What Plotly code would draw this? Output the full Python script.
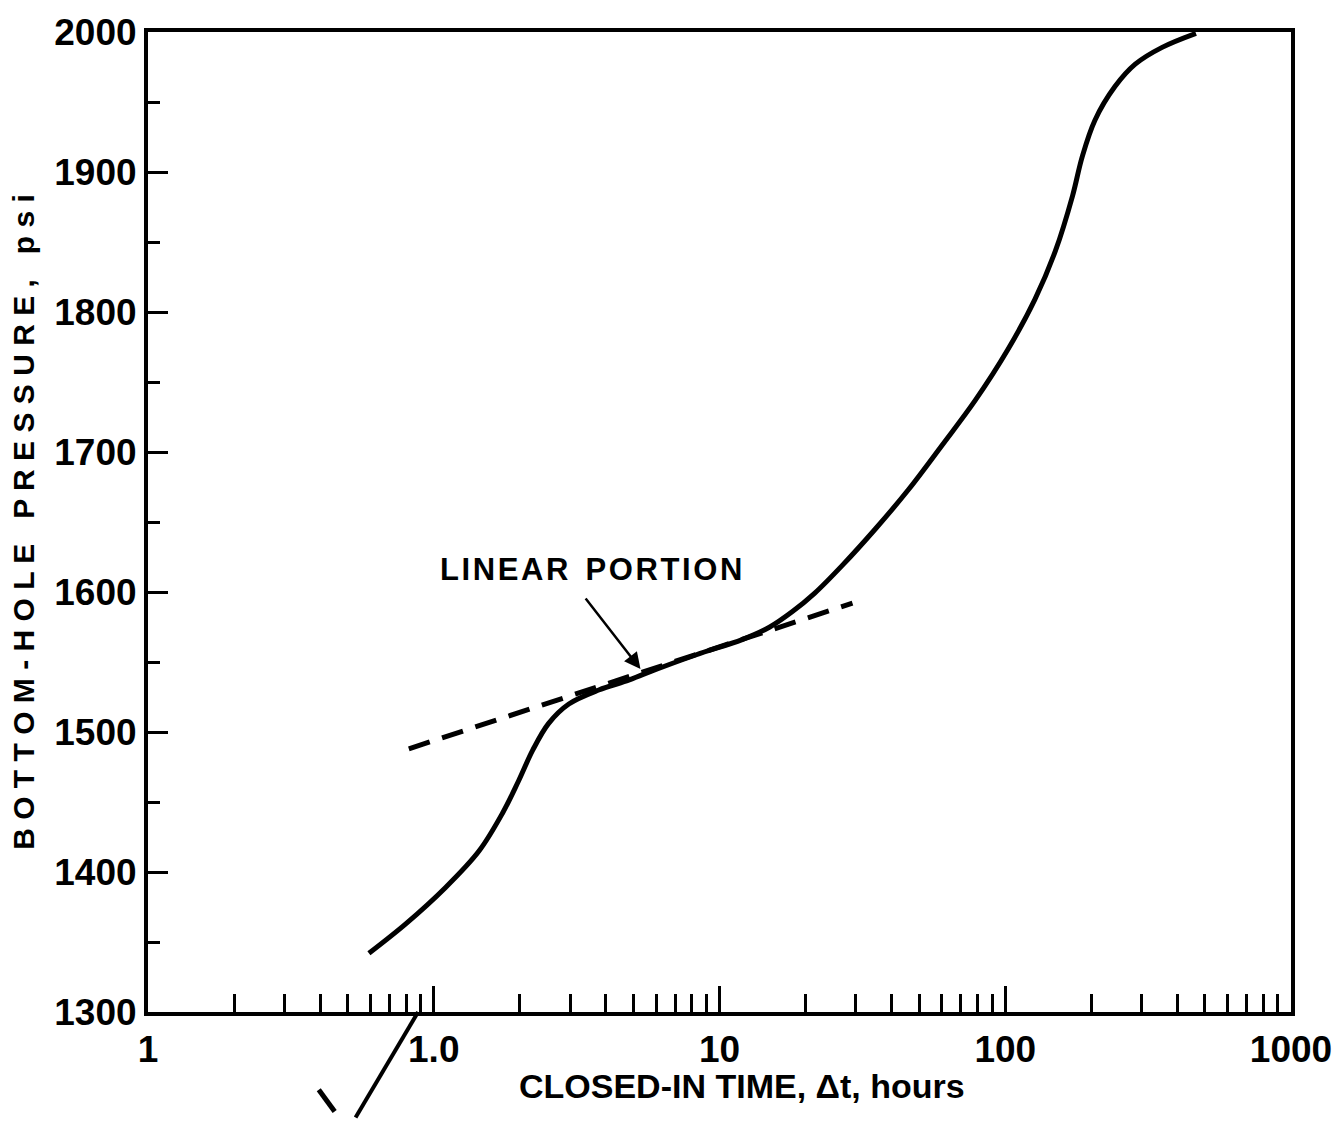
import math
import plotly.graph_objects as go

# Solid build-up curve (closed-in time, hours ; bottom-hole pressure, psi)
curve_t = [0.593, 0.798, 1.10, 1.44, 1.74, 1.98, 2.22, 2.52, 2.97, 3.78, 4.81, 5.38,
           8.25, 12.0, 15.0, 18.0, 21.5, 26.9, 35.1, 45.8, 60.2, 78.6, 102, 127, 150, 172,
           186, 206, 242, 285, 354, 465]
curve_p = [1342, 1363, 1389, 1415, 1442, 1465, 1487, 1506, 1520, 1530, 1537, 1541,
           1555, 1566, 1575, 1586, 1599, 1619, 1645, 1673, 1705, 1737, 1773, 1809, 1844, 1883,
           1911, 1937, 1961, 1977, 1989, 1999]

# Dashed straight-line (semilog linear portion)
line_t = [0.818, 29.2]
line_p = [1488, 1592]

# Axis ticks
x_tickvals = [0.1, 1, 10, 100, 1000]
x_ticktext = ["1", "1.0", "10", "100", "1000"]
y_tickvals = [1300, 1400, 1500, 1600, 1700, 1800, 1900, 2000]
y_ticktext = [str(v) for v in y_tickvals]

# Annotation (time, pressure)
arrow_tip = (5.29, 1545)
label_pos = (3.54, 1616)
label_text = "LINEAR PORTION"

FONT = "Liberation Sans, Arial, sans-serif"

fig = go.Figure()
fig.add_trace(go.Scatter(x=line_t, y=line_p, mode="lines",
                         line=dict(color="black", width=5, dash="22px,13px"),
                         showlegend=False, hoverinfo="skip"))
fig.add_trace(go.Scatter(x=curve_t, y=curve_p, mode="lines",
                         line=dict(color="black", width=5, shape="spline", smoothing=1.0),
                         showlegend=False, hoverinfo="skip"))

fig.add_annotation(x=math.log10(arrow_tip[0]), y=arrow_tip[1], xref="x", yref="y",
                   ax=-56, ay=-72,
                   text="", showarrow=True, arrowhead=2, arrowsize=1.3,
                   arrowwidth=2.5, arrowcolor="black")
fig.add_annotation(x=math.log10(label_pos[0]), y=label_pos[1], xref="x", yref="y",
                   text="\u200a".join(label_text).replace("\u200a \u200a", "  "),
                   showarrow=False, font=dict(family=FONT, size=31, color="black", weight="bold"))

# x-axis title
fig.add_annotation(x=0.52, y=-0.075, xref="paper", yref="paper", yanchor="middle",
                   text="CLOSED-IN TIME, Δt, hours", showarrow=False,
                   font=dict(family=FONT, size=34, color="black", weight="bold"))

# scan marks below the axis
fig.add_shape(type="line", xref="paper", yref="paper", x0=0.2363, y0=0.0, x1=0.1816, y1=-0.1077,
              line=dict(color="black", width=4))
fig.add_shape(type="line", xref="paper", yref="paper", x0=0.1494, y0=-0.0793, x1=0.1633, y1=-0.1016,
              line=dict(color="black", width=5))

fig.update_xaxes(type="log", range=[-1, 3],
                 tickvals=x_tickvals, ticktext=x_ticktext,
                 ticks="inside", ticklen=26, tickwidth=3, tickcolor="black",
                 minor=dict(ticks="inside", ticklen=18, tickwidth=3, tickcolor="black", dtick="D1", showgrid=False),
                 showline=True, linewidth=4, linecolor="black", mirror=True,
                 showgrid=False, zeroline=False,
                 tickfont=dict(family=FONT, size=37, color="black", weight="bold"),
                 ticklabelstandoff=2)
fig.update_yaxes(range=[1300, 2000],
                 tickvals=y_tickvals, ticktext=y_ticktext,
                 ticks="inside", ticklen=20, tickwidth=3, tickcolor="black",
                 minor=dict(ticks="inside", ticklen=12, tickwidth=3, tickcolor="black", dtick=50, showgrid=False),
                 showline=True, linewidth=4, linecolor="black", mirror=True,
                 showgrid=False, zeroline=False,
                 tickfont=dict(family=FONT, size=37, color="black", weight="bold"),
                 title=dict(text="B O T T O M - H O L E   P R E S S U R E ,   p s i",
                            font=dict(family=FONT, size=30, color="black", weight="bold"), standoff=12))

fig.update_layout(width=1344, height=1122,
                  margin=dict(l=148, r=47, t=28, b=110),
                  paper_bgcolor="white", plot_bgcolor="white")

fig.write_html("out.html")
